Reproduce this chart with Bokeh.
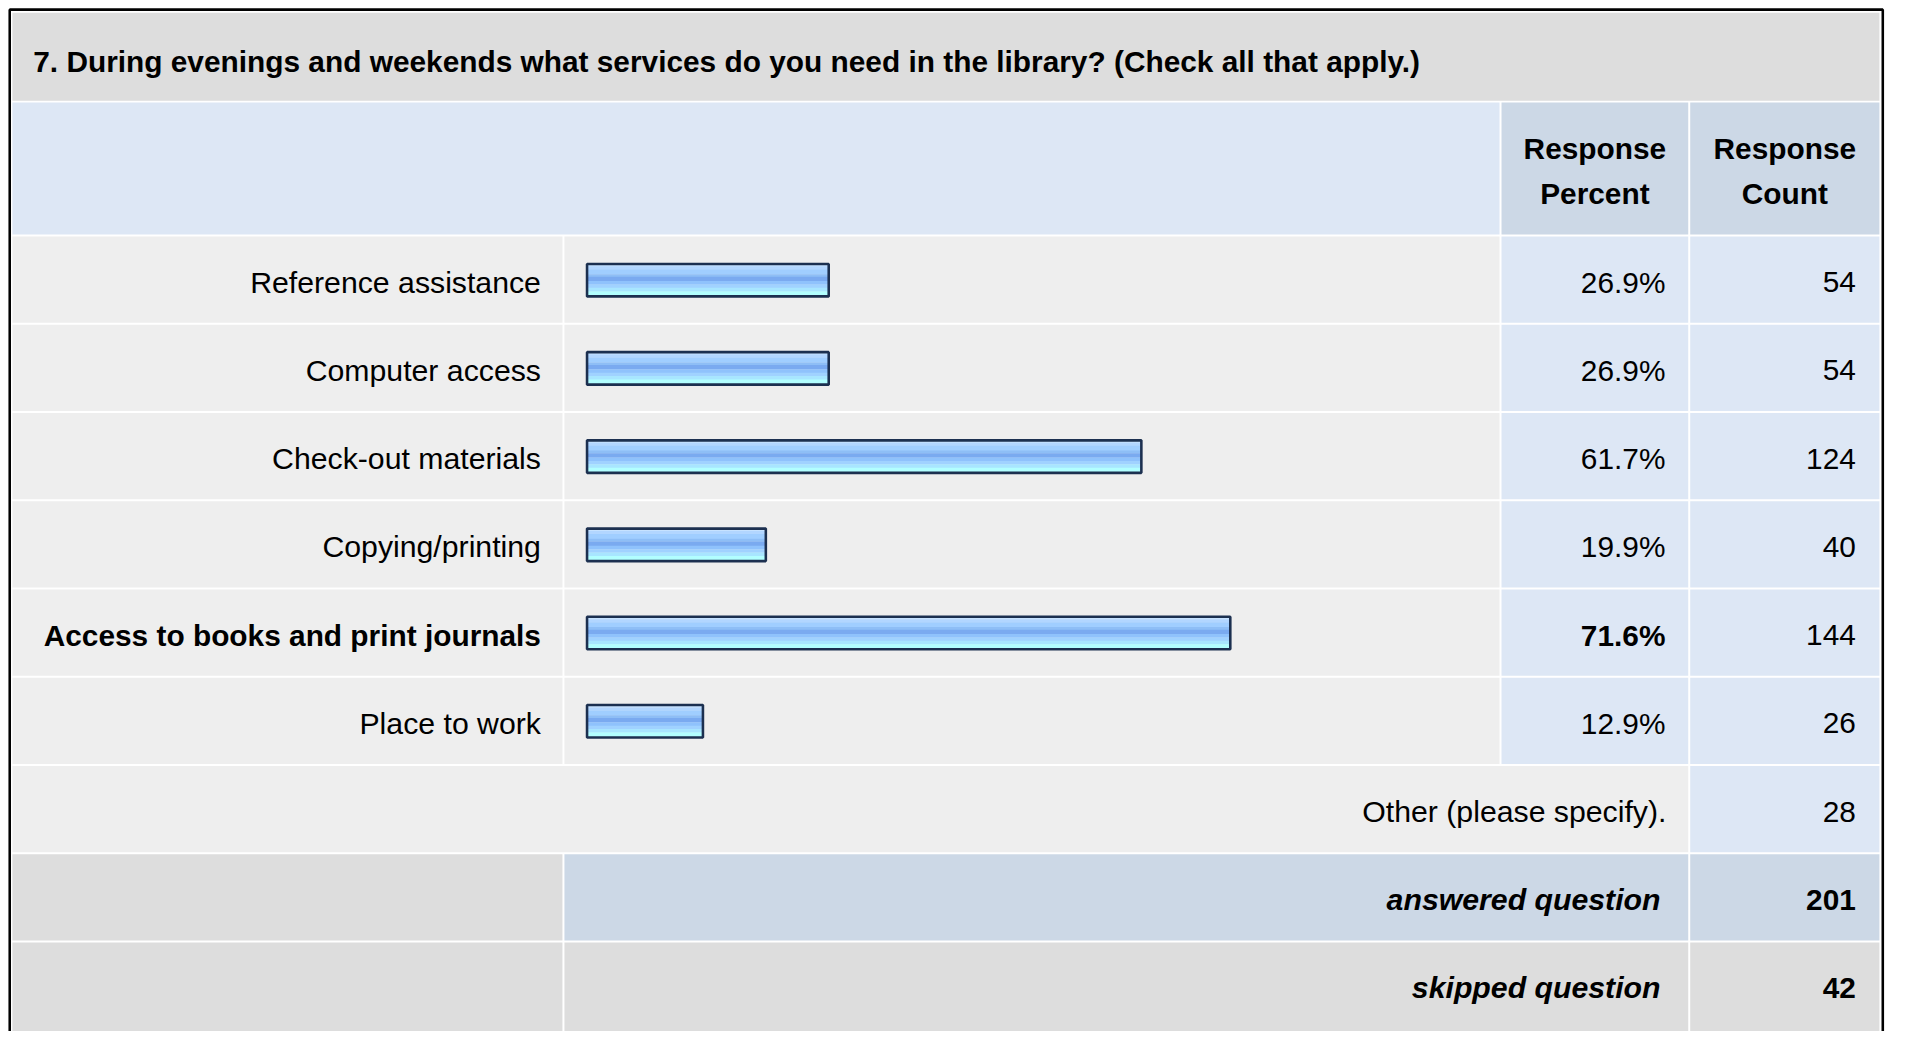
from bokeh.plotting import figure
from bokeh.models import Range1d, ColumnDataSource
from bokeh.core.properties import value
from bokeh.embed import file_html
from bokeh.resources import INLINE

# ---------------- data ----------------
title = "7. During evenings and weekends what services do you need in the library? (Check all that apply.)"
categories = ["Reference assistance", "Computer access", "Check-out materials",
              "Copying/printing", "Access to books and print journals", "Place to work"]
percents = [26.9, 26.9, 61.7, 19.9, 71.6, 12.9]
counts = [54, 54, 124, 40, 144, 26]
other_label = "Other (please specify)."
other_count = 28
answered_label = "answered question"
answered_count = 201
skipped_label = "skipped question"
skipped_count = 42
header_percent = ["Response", "Percent"]
header_count = ["Response", "Count"]

# ---------------- layout / style ----------------
FONT = value("Liberation Sans")
W, H = 1893, 1031          # figure size in screen px
RW, RH_ = 1909, 1047       # layout coordinate space
SC = (W / RW + H / RH_) / 2
GRAY = "#dddddd"
ROWBG = "#eeeeee"
LBLUE = "#dde7f5"
DBLUE = "#ccd8e6"

p = figure(width=W, height=H, x_range=Range1d(0, RW), y_range=Range1d(RH_, 0),
           x_axis_type=None, y_axis_type=None, output_backend="svg",
           toolbar_location=None, min_border=0)
p.outline_line_color = None
p.background_fill_color = "white"
p.border_fill_color = "white"

C0 = (12.0, 566.7)
C1 = (568.7, 1511.7)
C2 = (1513.7, 1702.0)
C3 = (1704.0, 1894.8)
TITLE_Y = (12.5, 101.7)
HEAD_Y = (103.7, 237.7)
ROW0 = 239.7
PITCH = 89.6
RH = 87.6

cells = dict(left=[], right=[], top=[], bottom=[], color=[])


def cell(xs, ys, color):
    cells["left"].append(xs[0]); cells["right"].append(xs[1])
    cells["top"].append(ys[0]); cells["bottom"].append(ys[1])
    cells["color"].append(color)


cell((C0[0], C3[1]), TITLE_Y, GRAY)
cell((C0[0], C1[1]), HEAD_Y, LBLUE)
cell(C2, HEAD_Y, DBLUE)
cell(C3, HEAD_Y, DBLUE)

n = len(categories)
row_tops = [ROW0 + i * PITCH for i in range(n + 3)]
row_mid = [t + RH / 2 for t in row_tops]
for i in range(n):
    ys = (row_tops[i], row_tops[i] + RH)
    cell(C0, ys, ROWBG)
    cell(C1, ys, ROWBG)
    cell(C2, ys, LBLUE)
    cell(C3, ys, LBLUE)
ys = (row_tops[n], row_tops[n] + RH)
cell((C0[0], C2[1]), ys, ROWBG)
cell(C3, ys, LBLUE)
ys = (row_tops[n + 1], row_tops[n + 1] + RH)
cell(C0, ys, GRAY)
cell((C1[0], C2[1]), ys, DBLUE)
cell(C3, ys, DBLUE)
ys = (row_tops[n + 2], row_tops[n + 2] + RH + 20)
cell(C0, ys, GRAY)
cell((C1[0], C2[1]), ys, GRAY)
cell(C3, ys, GRAY)

p.quad(left="left", right="right", top="top", bottom="bottom", fill_color="color",
       line_color=None, source=ColumnDataSource(cells))

p.quad(left=[9.3], right=[1898.2], top=[9.3], bottom=[RH_ + 20], fill_color=None,
       line_color="black", line_width=2.6 * SC)

# ---------------- bars ----------------
BAR_X0 = 591.5
PX_PER_PCT = 9.06
p.extra_x_ranges = {"pct": Range1d(start=-BAR_X0 / PX_PER_PCT,
                                   end=(RW - BAR_X0) / PX_PER_PCT)}
BAR_H = 33.0
bar_mid = [m + 0.5 for m in row_mid[:n]]
stripes = [(0.00, 0.08, "#c6e2ff"), (0.08, 0.17, "#b2d6ff"), (0.17, 0.32, "#a0ceff"),
           (0.32, 0.40, "#8ebef6"), (0.40, 0.53, "#7aaaf0"), (0.53, 0.64, "#8fc2fc"),
           (0.64, 0.74, "#a0d2ff"), (0.74, 0.85, "#a8e6ff"), (0.85, 1.00, "#b2ffff")]
for f0, f1, col in stripes:
    ys_ = [m - BAR_H / 2 + (f0 + f1) / 2 * BAR_H for m in bar_mid]
    p.hbar(y=ys_, left=0, right=percents, height=(f1 - f0) * BAR_H + 0.3,
           fill_color=col, line_color=None, x_range_name="pct")
p.hbar(y=bar_mid, left=0, right=percents, height=BAR_H, fill_color=None,
       line_color="#1c3050", line_width=2.6 * SC, x_range_name="pct")

# ---------------- texts ----------------
def fs(px):
    return f"{px * SC:.2f}px"


FS_B = fs(30.2)
FS_R = fs(30.6)
DY = 2.5
p.text(x=[33], y=[62], text=[title], text_font=FONT, text_font_size=FS_B,
       text_font_style="bold", text_baseline="middle", text_color="black")

for col, lines in ((C2, header_percent), (C3, header_count)):
    cx = (col[0] + col[1]) / 2
    p.text(x=[cx, cx], y=[150, 196], text=lines, text_font=FONT, text_font_size=FS_B,
           text_font_style="bold", text_align="center", text_baseline="middle",
           text_color="black")

imax = percents.index(max(percents))
styles = ["bold" if i == imax else "normal" for i in range(n)]
sizes = [FS_B if i == imax else FS_R for i in range(n)]
lab = ColumnDataSource(dict(
    y=[m + DY for m in row_mid[:n]], label=categories, pct=[f"{v:.1f}%" for v in percents],
    cnt=[str(c) for c in counts], style=styles, size=sizes))
p.text(x=545, y="y", text="label", source=lab, text_font=FONT, text_font_size="size",
       text_font_style="style", text_align="right", text_baseline="middle", text_color="black")
p.text(x=1679, y="y", text="pct", source=lab, text_font=FONT, text_font_size=FS_B,
       text_font_style="style", text_align="right", text_baseline="middle", text_color="black")
p.text(x=1871, y="y", text="cnt", source=lab, text_font=FONT, text_font_size=FS_B,
       text_align="right", text_baseline="middle", text_color="black")

p.text(x=[1680], y=[row_mid[n] + DY], text=[other_label], text_font=FONT, text_font_size=FS_R,
       text_align="right", text_baseline="middle", text_color="black")
p.text(x=[1871], y=[row_mid[n] + DY], text=[str(other_count)], text_font=FONT,
       text_font_size=FS_B, text_align="right", text_baseline="middle", text_color="black")
p.text(x=[1674, 1674], y=[row_mid[n + 1] + DY, row_mid[n + 2] + DY],
       text=[answered_label, skipped_label],
       text_font=FONT, text_font_size=fs(30.6), text_font_style="bold italic",
       text_align="right", text_baseline="middle", text_color="black")
p.text(x=[1871, 1871], y=[row_mid[n + 1] + DY, row_mid[n + 2] + DY],
       text=[str(answered_count), str(skipped_count)], text_font=FONT, text_font_size=FS_B,
       text_font_style="bold", text_align="right", text_baseline="middle", text_color="black")

open("out.html", "w").write(file_html(p, INLINE))
